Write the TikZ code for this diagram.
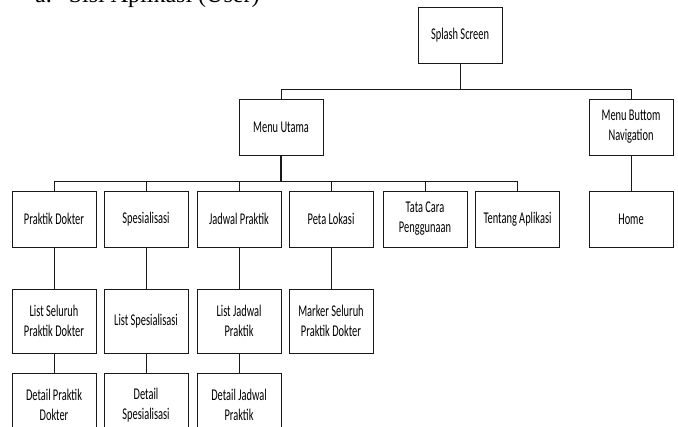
\documentclass[tikz,border=0pt]{standalone}
\usepackage{fontspec}
\usepackage{tikz}
\newfontfamily\boxfont[FakeStretch=0.634]{Carlito}
\newfontfamily\headfont{Liberation Serif}
\definecolor{figline}{RGB}{25,25,25}
\tikzset{
  bx/.style  ={draw=figline, line width=0.9pt, minimum width=84pt, minimum height=56pt,
               inner sep=1pt, align=center, font=\boxfont\fontsize{16.4}{20}\selectfont},
  bxt/.style ={bx, minimum height=64pt},
  cn/.style  ={draw=figline, line width=0.9pt},
  cnb/.style ={draw=figline, line width=1.8pt},
  hd/.style  ={font=\headfont\fontsize{24}{28}\selectfont, inner sep=0pt, anchor=base west},
}
\begin{document}
\begin{tikzpicture}[x=1pt,y=-1pt]
  \useasboundingbox (0,0) rectangle (678,427);
  \node[hd] (head) at (35,3) {a.\hspace{17pt}Sisi Aplikasi (User)};
  % top level
  \node[bx] (splash) at (460,35) {Splash Screen};
  \node[bx] (utama) at (281,127) {Menu Utama};
  \node[bx] (nav) at (631,127) {Menu Buttom\\Navigation};
  % second level
  \node[bx] (praktik) at (54,219) {Praktik Dokter};
  \node[bx] (spesial) at (146,219) {Spesialisasi};
  \node[bx] (jadwal) at (239,219) {Jadwal Praktik};
  \node[bx] (peta) at (331,219) {Peta Lokasi};
  \node[bx] (tatacara) at (425,219) {Tata Cara\\Penggunaan};
  \node[bx] (tentang) at (517.5,219) {Tentang Aplikasi};
  \node[bx] (home) at (631,219) {Home};
  % third level
  \node[bxt] (listpraktik) at (54,321) {List Seluruh\\Praktik Dokter};
  \node[bxt] (listspesial) at (146,321) {List Spesialisasi};
  \node[bxt] (listjadwal) at (239,321) {List Jadwal\\Praktik};
  \node[bxt] (marker) at (331,321) {Marker Seluruh\\Praktik Dokter};
  % fourth level
  \node[bxt] (detpraktik) at (54,405) {Detail Praktik\\Dokter};
  \node[bxt] (detspesial) at (146,405) {Detail\\Spesialisasi};
  \node[bxt] (detjadwal) at (239,405) {Detail Jadwal\\Praktik};
  % connectors
  \coordinate (busa) at (0,89);
  \coordinate (busb) at (0,181);
  \draw[cn] (splash.south) -- (splash.south |- busa);
  \draw[cn] (utama.north) -- (utama.north |- busa) -- (nav.north |- busa) -- (nav.north);
  \draw[cnb] (utama.south) -- (utama.south |- busb);
  \draw[cn] (praktik.north) -- (praktik.north |- busb) -- (tentang.north |- busb) -- (tentang.north);
  \draw[cn] (spesial.north) -- (spesial.north |- busb);
  \draw[cn] (jadwal.north) -- (jadwal.north |- busb);
  \draw[cn] (peta.north) -- (peta.north |- busb);
  \draw[cn] (tatacara.north) -- (tatacara.north |- busb);
  \draw[cn] (nav.south) -- (home.north);
  \draw[cn] (praktik.south) -- (listpraktik.north);
  \draw[cn] (spesial.south) -- (listspesial.north);
  \draw[cn] (jadwal.south) -- (listjadwal.north);
  \draw[cn] (peta.south) -- (marker.north);
  \draw[cn] (listpraktik.south) -- (detpraktik.north);
  \draw[cn] (listspesial.south) -- (detspesial.north);
  \draw[cn] (listjadwal.south) -- (detjadwal.north);
\end{tikzpicture}
\end{document}
